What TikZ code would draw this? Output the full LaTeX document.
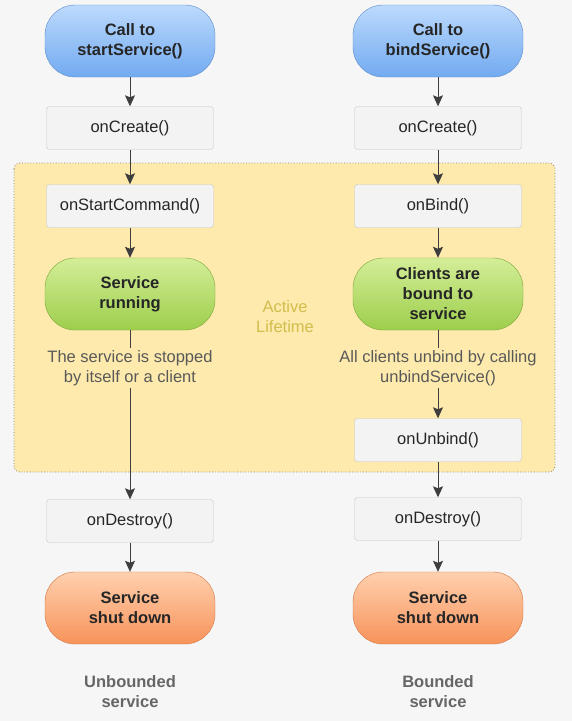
\documentclass[tikz,border=0pt]{standalone}
\usepackage{fontspec}
\setmainfont{Liberation Sans}
\usetikzlibrary{arrows.meta}

\definecolor{bgcol}{HTML}{F6F6F6}
\definecolor{activefill}{HTML}{FDEAAC}
\definecolor{activetext}{HTML}{D2BE4C}
\definecolor{boxfill}{HTML}{F3F3F3}
\definecolor{boxline}{HTML}{C6C6C6}
\definecolor{arrowcol}{HTML}{3E3E3E}
\definecolor{bluetop}{HTML}{BCDAFD}
\definecolor{bluebot}{HTML}{72AAF0}
\definecolor{blueline}{HTML}{5E8CCB}
\definecolor{greentop}{HTML}{D4EE98}
\definecolor{greenbot}{HTML}{9DCE4C}
\definecolor{greenline}{HTML}{7CA63A}
\definecolor{orangetop}{HTML}{FFD0AE}
\definecolor{orangebot}{HTML}{F7935A}
\definecolor{orangeline}{HTML}{D07845}

\tikzset{
  every node/.style={font=\fontsize{16.5}{20}\selectfont, text=black!85},
  pill/.style={minimum width=170pt, minimum height=72pt, rounded corners=30pt,
    align=center, font=\fontsize{16.5}{20}\selectfont\bfseries},
  bluepill/.style={pill, draw=blueline, top color=bluetop, bottom color=bluebot},
  greenpill/.style={pill, draw=greenline, top color=greentop, bottom color=greenbot},
  orangepill/.style={pill, draw=orangeline, top color=orangetop, bottom color=orangebot},
  box/.style={draw=boxline, fill=boxfill, rounded corners=3pt,
    minimum width=167pt, minimum height=43pt},
  note/.style={align=center, text=black!65, inner sep=2pt},
  caption/.style={align=center, text=black!60, font=\fontsize{16.5}{20}\selectfont\bfseries},
  flow/.style={draw=arrowcol, line width=1pt, -{Stealth[length=11pt,width=10pt,inset=2pt]}},
  link/.style={draw=arrowcol, line width=1pt}
}

\begin{document}
\begin{tikzpicture}[x=1pt, y=-1pt]
        \useasboundingbox[fill=bgcol] (0,0) rectangle (572,721);

        % active lifetime area
        \draw[fill=activefill, draw=black!50, dotted, line width=0.8pt, rounded corners=6pt]
            (14,163) rectangle (555,472);
        \node (active) [align=center, text=activetext] at (285,317) {Active\\Lifetime};

        % unbounded service
        \node (start1) [bluepill] at (130,41) {Call to\\startService()};
        \node (create1) [box] at (130,128) {onCreate()};
        \node (command) [box] at (130,206) {onStartCommand()};
        \node (running) [greenpill] at (130,294) {Service\\running};
        \node (stopped) [note] at (130,368) {The service is stopped\\by itself or a client};
        \node (destroy1) [box] at (130,521) {onDestroy()};
        \node (shut1) [orangepill] at (130,608) {Service\\shut down};
        \node (unbounded) [caption] at (130,692) {Unbounded\\service};

        % bounded service
        \node (start2) [bluepill] at (438,41) {Call to\\bindService()};
        \node (create2) [box] at (438,128) {onCreate()};
        \node (bind) [box] at (438,206) {onBind()};
        \node (bound) [greenpill] at (438,294) {Clients are\\bound to\\service};
        \node (unbindall) [note] at (438,368) {All clients unbind by calling\\unbindService()};
        \node (unbind) [box] at (438,440) {onUnbind()};
        \node (destroy2) [box] at (438,519) {onDestroy()};
        \node (shut2) [orangepill] at (438,608) {Service\\shut down};
        \node (bounded) [caption] at (438,692) {Bounded\\service};

        \draw[flow] (start1) -- (create1);
        \draw[flow] (create1) -- (command);
        \draw[flow] (command) -- (running);
        \draw[link] (running) -- (stopped);
        \draw[flow] (stopped) -- (destroy1);
        \draw[flow] (destroy1) -- (shut1);

        \draw[flow] (start2) -- (create2);
        \draw[flow] (create2) -- (bind);
        \draw[flow] (bind) -- (bound);
        \draw[link] (bound) -- (unbindall);
        \draw[flow] (unbindall) -- (unbind);
        \draw[flow] (unbind) -- (destroy2);
        \draw[flow] (destroy2) -- (shut2);

    \end{tikzpicture}
\end{document}
